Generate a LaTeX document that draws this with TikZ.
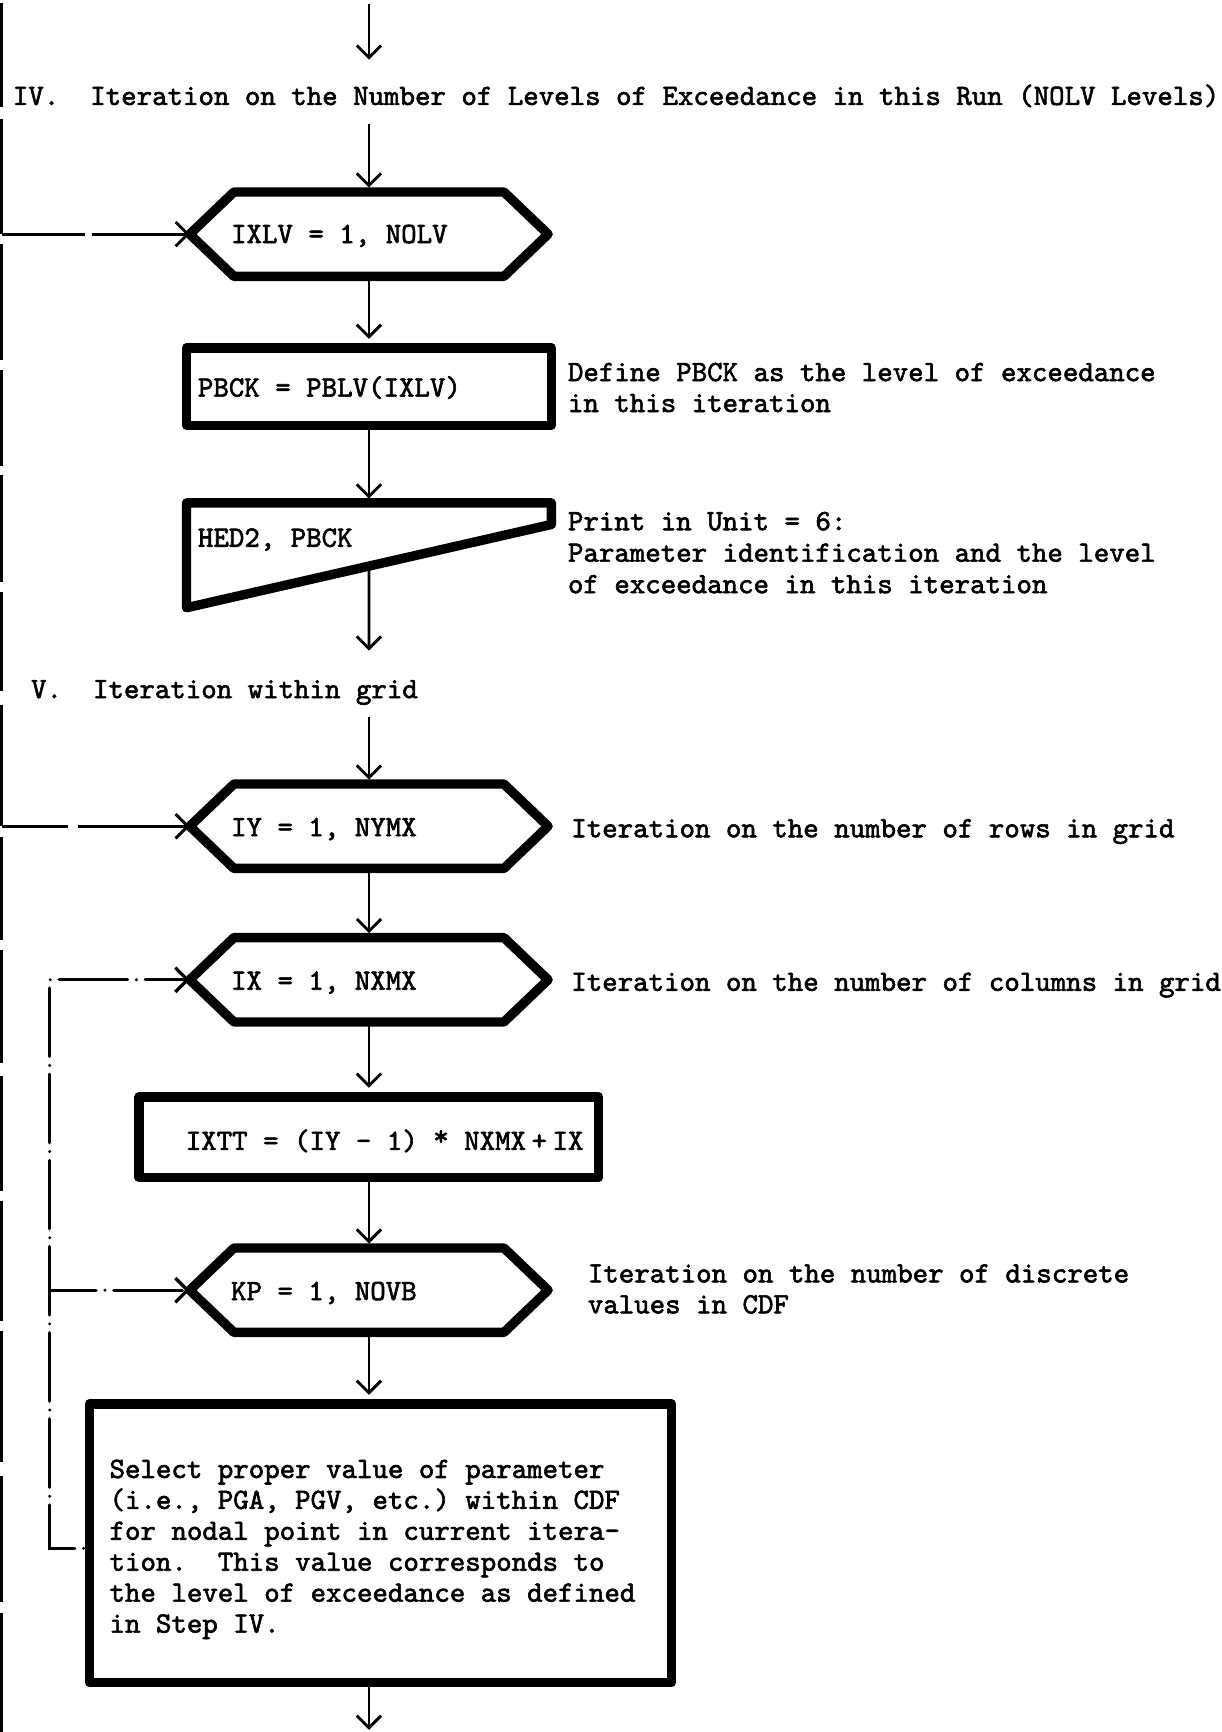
\documentclass[tikz,border=0pt]{standalone}
\usepackage{fontspec}
\usetikzlibrary{arrows.meta,calc}
\newfontfamily\tw{lmmono10-regular.otf}[FakeBold=2]
\tikzset{
  conn/.style={line width=2.6pt, -{Straight Barb[length=11pt,width=22pt]}},
  toshape/.style={shorten >=4pt},
  shp/.style={draw, line width=8.5pt, line join=round, inner sep=0pt},
  core/.style={inner sep=0pt, minimum width=324pt, minimum height=76pt},
  outline/.style={line width=8.5pt, line join=round},
  lbl/.style={anchor=base west, inner sep=0pt, font=\tw\fontsize{26.67pt}{28pt}\selectfont\frenchspacing},
  longdash/.style={line width=2.6pt},
  dashdot/.style={line width=3pt, line cap=round, dash pattern=on 62pt off 8pt on 0pt off 8pt},
}
% loop-limit hexagon drawn around a core node
\newcommand\hexpath[1]{%
  \draw[outline] (#1.west) -- ($(#1.north west)+(40,0)$) -- ($(#1.north east)+(-40,0)$)
    -- (#1.east) -- ($(#1.south east)+(-40,0)$) -- ($(#1.south west)+(40,0)$) -- cycle;}
\begin{document}
\begin{tikzpicture}[x=1pt,y=-1pt]
\useasboundingbox (0,0) rectangle (1106,1568);
\fill[white] (0,0) rectangle (1106,1568);

% outer return line along the left margin
\foreach \a/\b in {3/97, 108/212, 221/326, 335/422, 430/527, 536/626, 638/748, 758/851, 860/962, 974/1078, 1087/1196, 1205/1324, 1336/1450, 1460/1568}
  \draw[longdash] (1.5,\a) -- (1.5,\b);

% section headings
\node[lbl] (hIV) at (11.5,95) {IV.\ \ Iteration on the Number of Levels of Exceedance in this Run (NOLV Levels)};
\node[lbl] (hV) at (28,632) {V.\ \ Iteration within grid};

% step IV blocks
\node[core] (ixlv) at (334,212) {};
\hexpath{ixlv}
\node[lbl] (ixlvt) at (209,220) {IXLV = 1, NOLV};

\node[shp, minimum width=330pt, minimum height=70pt] (pbck) at (334,350) {};
\node[lbl] (pbckt) at (179,359) {PBCK = PBLV(IXLV)};
\node[lbl] (defA) at (514,345) {Define PBCK as the level of exceedance};
\node[lbl] (defB) at (514,373) {in this iteration};

\node[inner sep=0pt, minimum width=330pt, minimum height=94.5pt] (hed) at (334,502.75) {};
\coordinate (hedr) at ($(hed.north east)+(0,19.5)$);
\draw[outline] (hed.south west) -- (hed.north west) -- (hed.north east) -- (hedr) -- cycle;
\coordinate (hedout) at ($(hed.south west)!.5!(hedr)$);
\node[lbl] (hedt) at (179,495) {HED2, PBCK};
\node[lbl] (prA) at (514,480) {Print in Unit = 6:};
\node[lbl] (prB) at (514,508.5) {Parameter identification and the level};
\node[lbl] (prC) at (514,537) {of exceedance in this iteration};

% step V blocks
\node[core] (iy) at (334,748) {};
\hexpath{iy}
\node[lbl] (iyt) at (209,757) {IY = 1, NYMX};
\node[lbl] (rows) at (517,758) {Iteration on the number of rows in grid};

\node[core] (ix) at (334,887) {};
\hexpath{ix}
\node[lbl] (ixt) at (209,896) {IX = 1, NXMX};
\node[lbl] (cols) at (517,897) {Iteration on the number of columns in grid};

\node[shp, minimum width=416pt, minimum height=73pt] (ixtt) at (334,1029.5) {};
\node[lbl] (ixttt) at (168,1041) {IXTT = (IY - 1) \raisebox{4pt}{*} NXMX\kern5pt+\kern5pt IX};

\node[core] (kp) at (334,1168) {};
\hexpath{kp}
\node[lbl] (kpt) at (209,1177) {KP = 1, NOVB};
\node[lbl] (kpA) at (532,1161) {Iteration on the number of discrete};
\node[lbl] (kpB) at (532,1189) {values in CDF};

\node[shp, minimum width=527pt, minimum height=252pt] (sel) at (344.5,1397) {};
\node[lbl] (selA) at (99,1338) {Select proper value of parameter};
\node[lbl] (selB) at (99,1366) {(i.e., PGA, PGV, etc.) within CDF};
\node[lbl] (selC) at (99,1394) {for nodal point in current itera-};
\node[lbl] (selD) at (99,1422) {tion.\ \ This value corresponds to};
\node[lbl] (selE) at (99,1450) {the level of exceedance as defined};
\node[lbl] (selF) at (99,1478) {in Step IV.};

% main flow
\coordinate (top0) at (334,4);
\coordinate (top1) at (334,54);
\draw[conn] (top0) -- (top1);
\coordinate (s4) at (334,112);
\draw[conn,toshape] (s4) -- (ixlv.north);
\draw[conn,toshape] (ixlv.south) -- (pbck.north);
\draw[conn,toshape] (pbck.south) -- (hed.north);
\coordinate (e4) at (334,589);
\draw[conn] (hedout) -- (e4);
\coordinate (s5) at (334,649);
\draw[conn,toshape] (s5) -- (iy.north);
\draw[conn,toshape] (iy.south) -- (ix.north);
\draw[conn,toshape] (ix.south) -- (ixtt.north);
\draw[conn,toshape] (ixtt.south) -- (kp.north);
\draw[conn,toshape] (kp.south) -- (kp.south |- sel.north);
\coordinate (out) at (334,1566);
\draw[conn] (kp.south |- sel.south) -- (out);

% returns from the outer loop
\coordinate (b4a) at (1.5,212);
\coordinate (b4b) at (77,212);
\coordinate (b4c) at (83,212);
\draw[longdash] (b4a) -- (b4b);
\draw[conn] (b4c) -- (ixlv.west);
\coordinate (b5a) at (1.5,748);
\coordinate (b5b) at (62,748);
\coordinate (b5c) at (71,748);
\draw[longdash] (b5a) -- (b5b);
\draw[conn] (b5c) -- (iy.west);

% inner dash-dot returns
\coordinate (lx) at (45,0);
\coordinate (selret) at ($(sel.north west)+(0,135)$);
\draw[conn,dashdot,dash phase=69pt] (selret) -- (selret -| lx) |- (ix.west);
\draw[conn,dashdot,dash phase=20pt] (lx |- kp.west) -- (kp.west);
\end{tikzpicture}
\end{document}
